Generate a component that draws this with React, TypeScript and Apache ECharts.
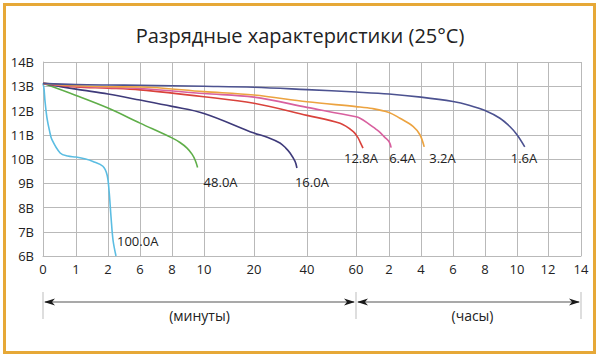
import React, { useEffect, useRef } from "react";
import * as echarts from "echarts";

// X axis: tick labels, their real time (minutes) and their place along the axis
const TICK_LABELS = ["0", "1", "2", "6", "8", "10", "20", "40", "60", "2", "4", "6", "8", "10", "12", "14"];
const TICK_MINUTES = [0, 1, 2, 6, 8, 10, 20, 40, 60, 120, 240, 360, 480, 600, 720, 840];
const TICK_POS = [0, 33, 65, 97, 129, 161, 211, 264, 313, 346, 378, 410, 442, 474, 505, 538];

const Y_MIN = 6;
const Y_MAX = 14;

const CURVE_NAMES = ["100.0A", "48.0A", "16.0A", "12.8A", "6.4A", "3.2A", "1.6A"];

// [minutes, volts]
const c100A: [number, number][] = [
  [0, 13.12], [0.03, 12.9], [0.06, 12.4], [0.12, 11.7], [0.2, 11.15], [0.27, 10.8], [0.52, 10.25],
  [0.75, 10.12], [1, 10.08], [1.3, 10.0], [1.53, 9.9], [1.84, 9.7], [1.97, 9.35], [2.13, 8.7],
  [2.38, 7.6], [2.63, 6.65], [3.0, 6.0],
];
const c48A: [number, number][] = [
  [0, 13.12], [1, 12.62], [2, 12.1], [6, 11.48], [8, 10.87], [8.5, 10.68], [8.94, 10.45],
  [9.25, 10.2], [9.45, 9.95], [9.6, 9.65],
];
const c16A: [number, number][] = [
  [0, 13.12], [1, 12.88], [2, 12.68], [6, 12.43], [8, 12.17], [10, 11.88], [20, 11.07], [25, 10.9],
  [29.8, 10.66], [32, 10.45], [33.6, 10.25], [35.5, 9.9], [36.2, 9.63],
];
const c12_8A: [number, number][] = [
  [0, 13.12], [1, 12.97], [2, 12.92], [6, 12.85], [10, 12.57], [20, 12.3], [40, 11.8],
  [53.5, 11.47], [58.9, 11.13], [63, 10.9], [67.3, 10.71], [72.7, 10.45],
];
const c6_4A: [number, number][] = [
  [0, 13.12], [1, 13.0], [2, 12.95], [6, 12.91], [10, 12.7], [20, 12.55], [40, 12.13], [60, 11.74],
  [67.3, 11.68], [80, 11.5], [95, 11.25], [103.6, 11.1], [112, 10.9], [120, 10.72], [128, 10.47],
];
const c3_2A: [number, number][] = [
  [0, 13.12], [1, 13.02], [2, 12.98], [6, 12.97], [10, 12.78], [20, 12.64], [40, 12.36], [60, 12.16],
  [90, 12.08], [120, 11.92], [161, 11.68], [210, 11.35], [236, 11.0], [252, 10.5],
];
const c1_6A: [number, number][] = [
  [0, 13.12], [1, 13.07], [2, 13.05], [6, 13.04], [10, 13.0], [20, 12.96], [40, 12.86], [60, 12.76],
  [120, 12.68], [240, 12.55], [360, 12.37], [420, 12.22], [480, 12.0], [536, 11.68], [574, 11.33],
  [600, 11.0], [630, 10.5],
];

const CURVES = [c100A, c48A, c16A, c12_8A, c6_4A, c3_2A, c1_6A];

const COLORS = ["#5bbde2", "#5fae49", "#3e3a7a", "#d9423b", "#d8609f", "#eca340", "#4c5290"];
const LABEL_OFFSETS: [number, number][] = [
  [1, -15], [6, 15], [-2, 14], [-19, 10], [-2, 10], [5, 11], [-14, 11],
];

const FONT = "'Open Sans', 'Noto Sans', sans-serif";

function toPos(m: number): number {
  for (let i = 1; i < TICK_MINUTES.length; i++) {
    if (m <= TICK_MINUTES[i]) {
      const a = TICK_MINUTES[i - 1];
      const b = TICK_MINUTES[i];
      return TICK_POS[i - 1] + ((m - a) / (b - a)) * (TICK_POS[i] - TICK_POS[i - 1]);
    }
  }
  return TICK_POS[TICK_POS.length - 1];
}

export default function App() {
  const ref = useRef<HTMLDivElement>(null);

  useEffect(() => {
    const el = ref.current;
    if (!el) return;
    const chart = echarts.init(el, undefined, { renderer: "svg" });

    const series = CURVES.map((c, i) => ({
      type: "line",
      name: CURVE_NAMES[i],
      data: c.map(([t, v]) => [toPos(t), v]),
      smooth: 0.35,
      showSymbol: false,
      symbol: "none",
      silent: true,
      lineStyle: { color: COLORS[i], width: 1.6 },
      itemStyle: { color: COLORS[i] },
      z: 3,
    }));

    const gridGray = "#b9b9b9";

    chart.setOption({
      animation: false,
      backgroundColor: "#ffffff",
      title: {
        text: "Разрядные характеристики (25°C)",
        left: "center",
        top: 20,
        textStyle: { fontFamily: FONT, fontSize: 20, fontWeight: "normal", color: "#222" },
      },
      grid: { left: 43, right: 19, top: 62, bottom: 102, outerBoundsMode: "none" },
      xAxis: {
        type: "value",
        min: 0,
        max: TICK_POS[TICK_POS.length - 1],
        axisLine: { show: true, lineStyle: { color: gridGray, width: 1 } },
        axisTick: { show: false, customValues: TICK_POS },
        splitLine: { show: true, lineStyle: { color: gridGray, width: 1 } },
        axisLabel: {
          customValues: TICK_POS,
          formatter: (v: number) => {
            const i = TICK_POS.indexOf(Math.round(v));
            return i >= 0 ? TICK_LABELS[i] : "";
          },
          color: "#222",
          fontFamily: FONT,
          fontSize: 13,
          margin: 6,
          showMinLabel: true,
          showMaxLabel: true,
          hideOverlap: false,
        },
      },
      yAxis: {
        type: "value",
        min: Y_MIN,
        max: Y_MAX,
        interval: 1,
        axisLine: { show: true, lineStyle: { color: gridGray, width: 1 } },
        axisTick: { show: false },
        splitLine: { show: true, lineStyle: { color: gridGray, width: 1 } },
        axisLabel: {
          formatter: (v: number) => `${v}В`,
          color: "#222",
          fontFamily: FONT,
          fontSize: 13,
          margin: 9,
        },
      },
      series,
    });

    const px = (x: number, y: number) => chart.convertToPixel({ gridIndex: 0 }, [x, y]) as number[];

    const labels = CURVES.map((c, i) => {
      const last = c[c.length - 1];
      const p = px(toPos(last[0]), last[1]);
      return {
        type: "text",
        x: p[0] + LABEL_OFFSETS[i][0],
        y: p[1] + LABEL_OFFSETS[i][1],
        z: 10,
        style: {
          text: CURVE_NAMES[i],
          fill: "#222",
          font: `13px ${FONT}`,
          textAlign: "left",
          textVerticalAlign: "middle",
        },
      };
    });

    const x0 = px(toPos(0), Y_MIN)[0];
    const x60 = px(toPos(60), Y_MIN)[0];
    const xEnd = px(toPos(840), Y_MIN)[0];
    const ay = 302;
    const arrow = (tipX: number, dir: number) => ({
      type: "polygon",
      z: 10,
      shape: {
        points: [
          [tipX, ay],
          [tipX + dir * 11, ay - 3.6],
          [tipX + dir * 8, ay],
          [tipX + dir * 11, ay + 3.6],
        ],
      },
      style: { fill: "#1a1a1a" },
    });
    const tick = (x: number) => ({
      type: "line",
      z: 9,
      shape: { x1: x, y1: 292, x2: x, y2: 319 },
      style: { stroke: "#bdbdbd", lineWidth: 1 },
    });

    chart.setOption({
      graphic: [
        {
          type: "rect",
          z: 20,
          shape: { x: 4.5, y: 4.5, width: 590, height: 348 },
          style: { fill: "none", stroke: "#e6a837", lineWidth: 3 },
        },
        ...labels,
        tick(x0),
        tick(x60),
        tick(xEnd),
        {
          type: "line",
          z: 9,
          shape: { x1: x0 + 2, y1: ay, x2: x60 - 2, y2: ay },
          style: { stroke: "#555", lineWidth: 1.2 },
        },
        {
          type: "line",
          z: 9,
          shape: { x1: x60 + 2, y1: ay, x2: xEnd - 2, y2: ay },
          style: { stroke: "#555", lineWidth: 1.2 },
        },
        arrow(x0 + 1, 1),
        arrow(x60 - 1, -1),
        arrow(x60 + 1, 1),
        arrow(xEnd - 1, -1),
        {
          type: "text",
          x: (x0 + x60) / 2,
          y: 315,
          z: 10,
          style: {
            text: "(минуты)",
            fill: "#222",
            font: `14px ${FONT}`,
            textAlign: "center",
            textVerticalAlign: "middle",
          },
        },
        {
          type: "text",
          x: (x60 + xEnd) / 2 + 4,
          y: 315,
          z: 10,
          style: {
            text: "(часы)",
            fill: "#222",
            font: `14px ${FONT}`,
            textAlign: "center",
            textVerticalAlign: "middle",
          },
        },
      ],
    });

    return () => chart.dispose();
  }, []);

  return (
    <div
      ref={ref}
      style={{ position: "fixed", left: 0, top: 0, width: 600, height: 358, background: "#fff" }}
    />
  );
}
